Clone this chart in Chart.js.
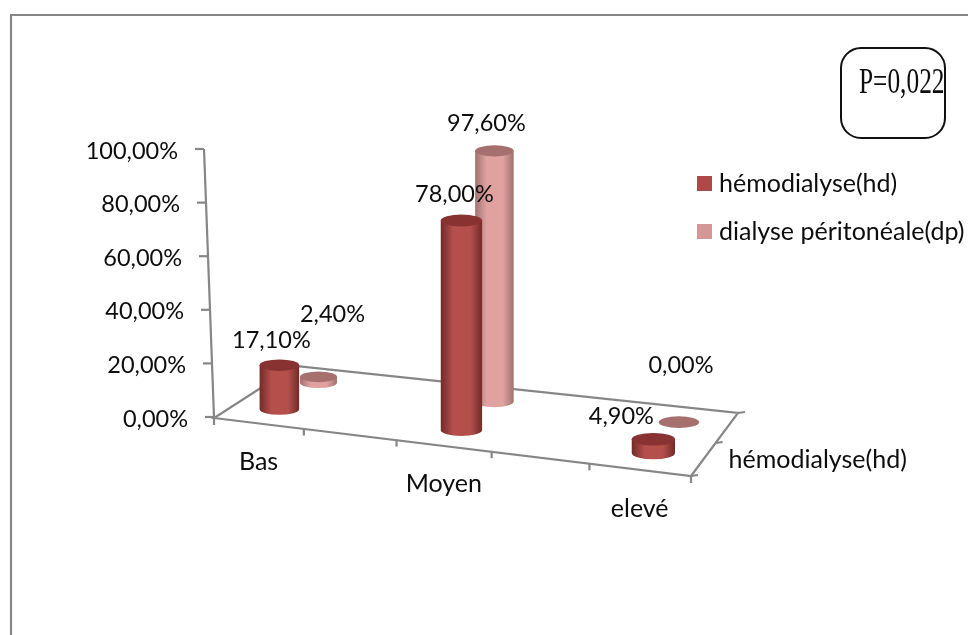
<!DOCTYPE html>
<html><head><meta charset="utf-8">
<style>html,body{margin:0;padding:0;background:#fff}canvas{display:block}</style>
<script src="https://cdn.jsdelivr.net/npm/chart.js@4"></script>
</head><body>
<canvas id="c" width="968" height="635"></canvas>
<script>
// Data
const categories = ['Bas', '', 'Moyen', '', 'elevé'];
const hdValues = [17.1, null, 78.0, null, 4.9];
const dpValues = [2.4, null, 97.6, null, 0.0];
const yTickValues = [0, 20, 40, 60, 80, 100];
const yTickLabels = ['0,00%', '20,00%', '40,00%', '60,00%', '80,00%', '100,00%'];
const seriesNames = ['hémodialyse(hd)', 'dialyse péritonéale(dp)'];
const annotation = 'P=0,022';

// Styling / layout constants
const FONT_NUM = '23.5px Lato, Carlito, "Open Sans", sans-serif';
const FONT_TXT = '25px Lato, Carlito, "Open Sans", sans-serif';
const INK = '#0d0d0d', AXIS = '#868686';
const A = [214, 418], B = [691, 476], C = [738, 413], D = [295, 366]; // floor corners
const hdLabelShift = [[-8, -26], null, [-7, -27], null, [-32, -24]];
const dpLabelShift = [[14, -63], null, [-8, -28], null, [2, -58]];
const seriesStyle = [
  {depth: .25, thick: 40, edge: '#732a28', mid: '#b44f4c', top: '#883331', legend: '#ad4a48'},
  {depth: .75, thick: 39, edge: '#a07270', mid: '#e0a2a0', top: '#a5706e', legend: '#d59796'}
];

// Floor homography (unit square -> quad)
const H = (() => {
  const dx1 = B[0]-C[0], dx2 = D[0]-C[0], sx = A[0]-B[0]+C[0]-D[0];
  const dy1 = B[1]-C[1], dy2 = D[1]-C[1], sy = A[1]-B[1]+C[1]-D[1];
  const den = dx1*dy2 - dx2*dy1;
  const g = (sx*dy2 - dx2*sy)/den, h = (dx1*sy - sx*dy1)/den;
  return {a: B[0]-A[0]+g*B[0], b: D[0]-A[0]+h*D[0], c: A[0],
          d: B[1]-A[1]+g*B[1], e: D[1]-A[1]+h*D[1], f: A[1], g, h};
})();
function project(u, v) {
  const w = H.g*u + H.h*v + 1;
  return {x: (H.a*u + H.b*v + H.c)/w + 5*Math.sin(Math.PI*u), y: (H.d*u + H.e*v + H.f)/w, w};
}
const pct = v => v.toFixed(2).replace('.', ',') + '%';

function line(ctx, x1, y1, x2, y2) {
  ctx.beginPath(); ctx.moveTo(x1, y1); ctx.lineTo(x2, y2); ctx.stroke();
}

function drawFrame(chart) {
  const ctx = chart.ctx, ya = chart.scales.y, ca = chart.chartArea;
  ctx.save();
  ctx.strokeStyle = AXIS; ctx.lineWidth = 2.2;
  ctx.beginPath(); ctx.moveTo(11, 635); ctx.lineTo(11, 15); ctx.lineTo(968, 15); ctx.stroke();
  // floor
  ctx.beginPath(); ctx.moveTo(A[0], A[1]); ctx.lineTo(B[0], B[1]); ctx.lineTo(C[0], C[1]); ctx.lineTo(D[0], D[1]); ctx.closePath(); ctx.stroke();
  // vertical axis, slightly tilted
  const axisX = y => A[0] - 10*(ya.getPixelForValue(0) - y)/(ya.getPixelForValue(0) - ya.getPixelForValue(100));
  line(ctx, axisX(ya.getPixelForValue(0)), ya.getPixelForValue(0), axisX(ya.getPixelForValue(100)), ya.getPixelForValue(100));
  ctx.font = FONT_NUM; ctx.fillStyle = INK; ctx.textAlign = 'right'; ctx.textBaseline = 'middle';
  yTickValues.forEach((t, i) => {
    const y = ya.getPixelForValue(t), x = axisX(y);
    ctx.strokeStyle = AXIS;
    line(ctx, x - 9, y, x, y);
    ctx.fillText(yTickLabels[i], x - 26, y + 2);
  });
  // front ticks (one per slot)
  const n = categories.length;
  for (let i = 0; i <= n; i++) {
    const p = project(i/n, 0);
    line(ctx, p.x, p.y, p.x, p.y + 7);
  }
  // depth ticks
  [0, .5, 1].forEach(v => { const p = project(1, v); line(ctx, p.x, p.y, p.x + 7, p.y - 1); });
  // category labels
  ctx.font = FONT_TXT;
  ctx.textAlign = 'center';
  const xa = chart.scales.x;
  categories.forEach((c, i) => {
    if (!c) return;
    const p = project((xa.getPixelForValue(i) - ca.left)/(ca.right - ca.left), 0);
    ctx.fillText(c, p.x, p.y + 39);
  });
  // series axis label
  const sp = project(1, seriesStyle[0].depth);
  ctx.textAlign = 'left';
  ctx.fillText(seriesNames[0], sp.x + 25, sp.y + 1);
  ctx.restore();
}

function drawCylinder(ctx, cx, by, tall, w, st) {
  const rx = w/2, ry = w*0.145, ty = by - tall;
  const g = ctx.createLinearGradient(cx - rx, 0, cx + rx, 0);
  g.addColorStop(0, st.edge); g.addColorStop(.3, st.mid); g.addColorStop(.72, st.mid); g.addColorStop(1, st.edge);
  if (tall > 0.5) {
    ctx.fillStyle = g;
    ctx.beginPath();
    ctx.moveTo(cx - rx, ty);
    ctx.lineTo(cx - rx, by);
    ctx.ellipse(cx, by, rx, ry, 0, Math.PI, 0, true);
    ctx.lineTo(cx + rx, ty);
    ctx.closePath();
    ctx.fill();
  }
  ctx.fillStyle = st.top;
  ctx.beginPath(); ctx.ellipse(cx, ty, rx, ry, 0, 0, Math.PI*2); ctx.fill();
}

const cylinderPlugin = {
  id: 'cylinder3d',
  beforeDatasetsDraw(chart) {
    const ctx = chart.ctx, ca = chart.chartArea;
    drawFrame(chart);
    const tops = [];
    for (let d = chart.data.datasets.length - 1; d >= 0; d--) {
      const st = seriesStyle[d], meta = chart.getDatasetMeta(d), ds = chart.data.datasets[d];
      meta.data.forEach((el, i) => {
        if (ds.data[i] === null) return;
        const p = project((el.x - ca.left)/(ca.right - ca.left), st.depth);
        const tall = (el.base - el.y)*0.97/p.w, w = el.width/p.w;
        drawCylinder(ctx, p.x, p.y, tall, w, st);
        tops.push({x: p.x, y: p.y - tall, v: ds.data[i], s: ds.labelShift[i]});
      });
    }
    ctx.save();
    ctx.font = FONT_NUM; ctx.fillStyle = INK; ctx.textAlign = 'center'; ctx.textBaseline = 'middle';
    tops.forEach(t => ctx.fillText(pct(t.v), t.x + t.s[0], t.y + t.s[1] + 1));
    // legend
    ctx.font = FONT_TXT;
    ctx.textAlign = 'left';
    chart.data.datasets.forEach((ds, i) => {
      const y = 183.5 + 48*i;
      ctx.fillStyle = ds.backgroundColor;
      ctx.fillRect(697, y - 7.5, 15, 15);
      ctx.fillStyle = INK;
      ctx.fillText(ds.label, 719, y);
    });
    // annotation box
    ctx.strokeStyle = '#111'; ctx.lineWidth = 2;
    ctx.beginPath(); ctx.roundRect(841, 48, 104, 90, 20); ctx.stroke();
    ctx.fillStyle = INK;
    ctx.translate(859, 84); ctx.scale(0.725, 1);
    ctx.font = '35px "Liberation Serif", serif';
    ctx.fillText(annotation, 0, 0);
    ctx.restore();
    return false;
  }
};

new Chart(document.getElementById('c'), {
  type: 'bar',
  data: {
    labels: categories,
    datasets: [
      {label: seriesNames[0], data: hdValues, backgroundColor: seriesStyle[0].legend, barThickness: seriesStyle[0].thick, grouped: false, labelShift: hdLabelShift},
      {label: seriesNames[1], data: dpValues, backgroundColor: seriesStyle[1].legend, barThickness: seriesStyle[1].thick, grouped: false, labelShift: dpLabelShift}
    ]
  },
  options: {
    responsive: false, animation: false,
    layout: {padding: {left: 214, right: 968-691, top: 149, bottom: 635-417}},
    scales: {
      x: {display: false, offset: true},
      y: {display: false, min: 0, max: 100}
    },
    plugins: {legend: {display: false}, tooltip: {enabled: false}}
  },
  plugins: [cylinderPlugin]
});
</script>
</body></html>
